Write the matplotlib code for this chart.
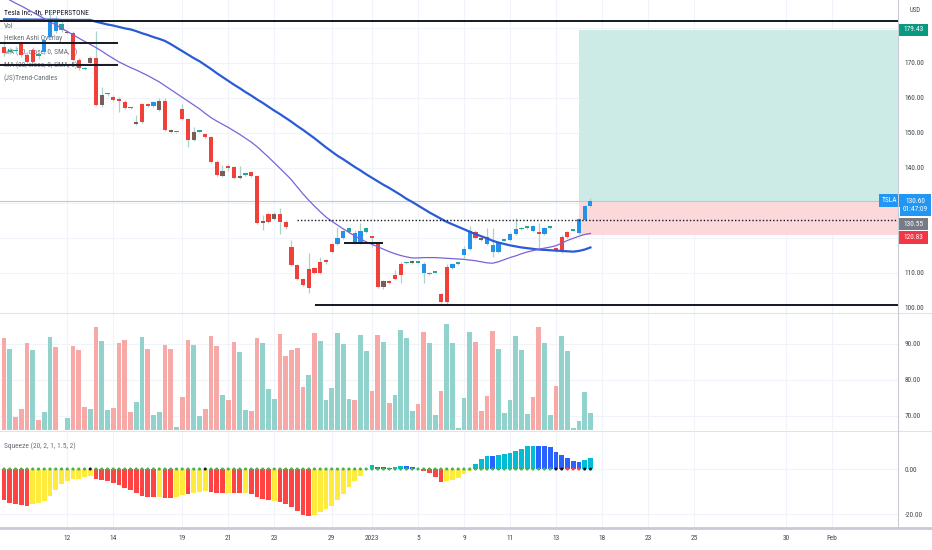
import matplotlib
matplotlib.use("Agg")
import matplotlib.pyplot as plt
import numpy as np
from matplotlib.patches import Rectangle
from matplotlib.lines import Line2D
from matplotlib import font_manager

_names = {f.name for f in font_manager.fontManager.ttflist}
if 'Liberation Sans Narrow' in _names:
    FAM, FS = 'Liberation Sans Narrow', 1.0
elif 'Roboto Condensed' in _names:
    FAM, FS = 'Roboto Condensed', 0.95
else:
    FAM, FS = 'Liberation Sans', 0.82
plt.rcParams['font.family'] = [FAM, 'Liberation Sans', 'DejaVu Sans']

# ---------------- data ----------------
opens = [174.6,173.2,173.6,175.4,172.3,173.7,172.0,173.2,177.5,179.0,
         181.0,178.8,178.6,170.9,168.4,171.5,171.5,158.0,161.0,160.4,
         159.7,158.9,157.1,152.6,153.2,158.2,157.7,156.6,159.1,150.9,
         150.2,156.9,153.9,148.0,150.4,149.6,148.8,141.8,137.7,140.7,
         140.2,137.1,138.0,138.8,137.7,124.2,126.9,125.3,126.8,124.7,
         117.5,112.3,108.2,105.6,111.3,109.9,113.0,115.9,118.2,120.1,
         121.8,118.5,118.5,121.8,120.4,118.5,107.7,107.8,109.4,112.6,
         112.8,113.4,112.9,112.6,109.6,110.1,104.0,101.6,111.5,112.6,
         115.1,116.8,121.8,120.1,118.2,118.0,115.9,119.2,119.4,121.1,
         122.5,122.9,122.1,121.8,121.1,122.9,117.1,116.4,120.4,122.1,
         121.5,125.1,129.2]
closes = [172.9,173.6,173.3,172.3,170.4,170.4,172.4,176.6,182.3,182.3,
          179.4,178.5,170.9,168.5,168.2,169.9,158.0,160.9,161.0,159.4,
          159.1,157.1,157.1,153.2,158.2,157.7,158.8,159.1,150.9,150.2,
          150.2,153.9,148.0,150.4,150.4,148.8,141.8,138.0,139.0,139.9,
          137.1,137.7,138.0,137.7,124.4,124.9,124.7,126.9,124.7,123.0,
          112.3,108.2,106.6,111.1,109.9,113.0,113.7,118.2,120.1,122.1,
          122.8,121.5,122.0,122.9,120.0,105.9,106.1,107.1,108.2,109.4,
          112.8,112.8,112.9,109.9,110.1,110.1,101.8,111.6,112.6,112.9,
          116.8,122.0,119.9,119.4,120.4,115.9,118.5,119.6,121.1,122.5,
          122.8,122.9,123.5,121.1,122.8,122.9,116.4,120.4,121.8,122.1,
          125.3,129.2,130.6]
highs = [176.5,174.5,174.8,176.2,173.0,174.5,173.5,177.0,185.0,183.5,
         182.0,179.5,179.0,171.3,168.8,172.0,179.0,163.2,161.5,160.9,
         160.2,159.3,157.4,155.1,158.6,158.6,159.0,159.9,160.0,151.2,
         150.4,158.2,154.3,151.8,150.6,150.0,149.2,142.2,140.9,141.2,
         140.6,140.6,138.2,139.2,138.0,126.6,127.3,127.3,128.6,125.0,
         119.4,112.6,108.5,115.7,111.6,114.7,114.0,118.6,123.2,122.4,
         123.1,122.4,124.4,123.2,120.7,118.8,108.0,108.1,110.8,113.0,
         113.2,113.8,113.2,113.0,110.4,110.3,104.3,112.6,112.9,113.1,
         117.7,123.4,122.2,120.4,122.8,122.8,118.8,119.8,121.4,125.6,
         123.0,123.1,123.8,124.4,123.1,123.1,117.4,120.9,122.1,122.3,
         125.6,129.5,131.3]
lows = [172.0,172.5,172.8,171.8,169.8,170.0,171.0,172.8,177.0,178.5,
        178.8,178.2,170.5,168.0,168.0,169.7,157.8,157.5,160.6,159.0,
        156.1,156.8,156.9,152.2,152.8,157.5,157.4,156.3,150.6,150.0,
        150.0,153.6,146.1,147.6,150.2,148.5,141.5,137.7,137.4,139.0,
        136.8,136.8,137.8,137.4,124.1,122.3,124.4,125.0,121.1,122.7,
        112.0,107.9,106.3,104.3,109.6,109.6,112.7,115.6,117.9,119.8,
        121.5,118.2,118.2,121.5,117.5,105.6,105.5,106.8,108.0,107.0,
        112.5,112.5,112.7,107.0,109.3,109.9,101.5,101.2,111.2,112.4,
        114.2,116.5,119.6,119.1,117.9,114.6,115.6,119.0,119.1,120.8,
        122.2,122.7,121.8,117.1,120.8,122.7,116.1,115.6,120.1,121.9,
        121.2,124.8,128.9]
candle_trend = ("rttrrrtbbb" "tdrrtdrdtr" "rrrdrrbdrd" "trrdtrrrdr" "rdtrrdrdrr"
                "rrrrrrrrbb" "tbbtrrdrrr" "tdtbttrrbt" "bbrdbbbtbb" "ttbrbtrrrt" "bbb")

ma50 = [182.5,182.5,182.5,182.4,182.4,182.4,182.4,182.4,182.4,182.4,
        182.3,182.3,182.3,182.3,182.3,182.3,181.8,181.4,181.0,180.7,
        180.3,179.9,179.6,179.1,178.5,178.0,177.4,176.9,176.3,175.4,
        174.4,173.4,172.4,171.4,170.5,169.4,168.3,167.1,166.0,164.9,
        163.8,162.8,161.7,160.7,159.6,158.6,157.5,156.4,155.4,154.3,
        153.2,152.0,150.9,149.7,148.5,147.2,145.9,144.7,143.5,142.5,
        141.4,140.3,139.3,138.2,137.2,136.2,135.2,134.3,133.3,132.3,
        131.2,130.3,129.3,128.3,127.3,126.4,125.5,124.6,123.9,123.2,
        122.5,121.8,121.1,120.5,119.9,119.2,118.7,118.3,117.9,117.6,
        117.3,117.1,116.9,116.7,116.6,116.5,116.4,116.3,116.2,116.1,
        116.3,116.7,117.3]
ma20 = [188.9,188.0,187.1,186.3,185.4,184.5,183.6,182.7,181.8,180.9,
        179.9,179.0,178.1,177.1,176.2,175.3,174.4,173.4,172.3,171.3,
        170.3,169.5,168.7,168.0,167.2,166.4,165.5,164.6,163.5,162.4,
        161.3,160.2,159.1,158.0,156.9,155.6,154.4,153.4,152.5,151.6,
        150.6,149.6,148.5,147.4,146.1,144.6,143.1,141.5,139.9,138.3,
        136.6,134.6,132.6,130.8,129.1,127.5,126.0,124.8,123.7,122.6,
        121.6,120.6,119.7,118.9,118.2,117.5,116.8,116.1,115.5,115.0,
        114.6,114.3,114.3,114.4,114.4,114.4,114.3,114.2,114.1,114.0,
        113.9,113.7,113.5,113.2,112.9,112.8,113.2,113.8,114.4,114.9,
        115.5,116.0,116.4,116.8,117.1,117.4,117.8,118.5,119.3,119.9,
        120.5,121.0,121.3]

volume = [91.6,88.6,69.8,71.9,90.2,88.3,69.0,71.1,91.9,89.1,
          66.1,69.4,89.3,88.3,72.5,72.0,94.6,90.9,71.6,72.2,
          90.2,91.1,71.0,74.0,91.9,88.6,70.2,71.1,89.8,88.7,
          67.0,75.2,91.1,89.6,70.1,71.9,92.2,89.5,75.7,74.5,
          90.6,87.8,71.6,71.4,91.7,90.2,77.4,74.6,92.9,86.6,
          88.3,89.0,78.1,81.4,
          93.1,90.7,74.5,77.8,93.1,89.9,74.7,74.5,92.5,88.1,
          77.0,92.5,90.6,73.6,75.8,93.8,91.7,71.5,73.2,93.4,
          90.2,70.4,77.0,95.6,90.2,66.6,75.1,93.2,90.6,71.3,
          75.6,93.6,88.6,70.7,74.5,92.1,88.4,70.6,75.2,94.6,
          90.2,70.4,78.3,92.1,88.1,66.6,68.6,76.7,70.9]
volume_dir = ("rtrrrtrttr" "rtrrrtrttr" "rrrttrttrr" "trrttrrrtr" "rttrrtttrr" "rrrt"
              "rttttttrtt" "rrtrttttrr" "ttrtttttrr" "rrttttttrr" "ttrtttttt")

squeeze = [-13.8,-15.0,-15.4,-16.0,-16.6,-15.6,-15.0,-14.1,-12.0,-9.3,
           -6.8,-5.2,-4.4,-4.3,-3.7,-3.0,-4.3,-4.9,-5.3,-6.1,
           -7.1,-8.3,-9.3,-10.8,-12.0,-12.4,-12.6,-12.5,-12.8,-12.9,
           -12.3,-11.6,-11.2,-10.5,-10.0,-9.7,-10.0,-10.5,-10.5,-10.5,
           -10.7,-10.8,-10.5,-11.2,-12.4,-13.4,-13.7,-14.1,-14.6,-15.6,
           -16.9,-18.5,-20.4,-20.9,-20.4,-19.3,-17.8,-16.4,-13.8,-11.1,
           -8.1,-5.3,-3.0,-0.6,1.8,0.9,0.7,0.5,0.9,1.5,
           1.3,0.7,-0.2,-0.9,-1.6,-3.7,-5.9,-5.5,-4.9,-3.9,
           -2.4,-0.9,2.1,4.3,5.9,5.9,6.2,6.5,7.0,8.2,
           9.1,10.1,10.4,10.1,10.1,9.8,7.4,6.2,5.0,3.7,
           3.0,4.0,4.7]
squeeze_state = ("rrrrr" "yyyyyyyyyyy" "rrrrrrrrrrr" "yrryyryyy" "rrr" "y" "rr" "y" "rrrr" "y" "rrrrrr"
                 "yyyyyyyyyy" "c" "bbb" "cc" "bb" "rrrrr" "yyyyy" "ccc" "b" "ccccccc" "bbbbbbbb" "cc")
dot_state = ["g"] * 103
for k in (15, 35, 96, 97, 101, 102):
    dot_state[k] = "k"
for k in (98, 99, 100):
    dot_state[k] = "r"

tick_bars = [11, 19, 31, 39, 47, 57, 64, 72, 80, 88, 96, 104, 112, 120, 136, 144]
tick_labels = ["12", "14", "19", "21", "23", "29", "2023", "5", "9", "11", "13", "18", "23", "25", "30", "Feb"]

price_ticks = [100, 110, 140, 150, 160, 170]
price_grid = [110, 120, 130, 140, 150, 160, 170, 180]
vol_ticks = [70, 80, 90]
sq_ticks = [0, -20]

# drawings
hline_levels = [181.9, 175.7, 169.4, 118.7, 100.9]
hline_start = [-0.7, -0.7, -0.7, 59.1, 54.1]
hline_end = [155.5, 19.8, 19.8, 65.9, 155.5]
dotted_level, dotted_start = 125.2, 51.0
last_price = 130.60
target_price, stop_price = 179.43, 120.83
entry_bar = 99.95
legend_lines = ["Vol", "Heiken Ashi Overlay", "MA (50, close, 0, SMA, 5)",
                "MA (20, close, 0, SMA, 5)", "(JS)Trend-Candles"]

# ---------------- figure ----------------
W, H = 932, 550
fig = plt.figure(figsize=(W / 100, H / 100), dpi=100)
PR = 898
LBL = 5.6 * FS


def fax(x0, y0, x1, y1):
    return fig.add_axes([x0 / W, 1 - y1 / H, (x1 - x0) / W, (y1 - y0) / H])


ax_p = fax(0, 0, PR, 313)
ax_v = fax(0, 313, PR, 430)
ax_s = fax(0, 431, PR, 527)

n = len(closes)
idx = np.arange(n)
XL = (-0.7, 155.5)
GRID = '#f0f3fa'
TXT = '#434651'

for ax in (ax_p, ax_v, ax_s):
    ax.set_xlim(*XL)
    for s in ax.spines.values():
        s.set_visible(False)
    ax.yaxis.tick_right()
    ax.tick_params(axis='y', length=0, pad=5, labelsize=LBL, labelcolor=TXT)
    ax.tick_params(axis='x', length=0)
    for t in tick_bars:
        ax.axvline(t, color=GRID, lw=0.8, zorder=0)
    ax.set_facecolor('white')

ax_p.set_ylim(98.57, 188.0)
ax_v.set_ylim(66.1, 98.6)
ax_s.set_ylim(-25.77, 16.9)

for g in price_grid:
    ax_p.axhline(g, color=GRID, lw=0.8, zorder=0)
ax_p.set_yticks(price_ticks)
ax_p.set_yticklabels([f"{v:.2f}" for v in price_ticks])
for g in vol_ticks:
    ax_v.axhline(g, color=GRID, lw=0.8, zorder=0)
ax_v.set_yticks(vol_ticks)
ax_v.set_yticklabels([f"{v:.2f}" for v in vol_ticks])
for g in sq_ticks:
    ax_s.axhline(g, color=GRID, lw=0.8, zorder=0)
ax_s.set_yticks(sq_ticks)
ax_s.set_yticklabels([f"{v:.2f}" for v in sq_ticks])

ax_p.set_xticks([])
ax_v.set_xticks([])
ax_s.set_xticks(tick_bars)
ax_s.set_xticklabels(tick_labels)
ax_s.tick_params(axis='x', labelsize=LBL, labelcolor=TXT, pad=5.5)

# ---- price pane ----
ax_p.add_patch(Rectangle((entry_bar, last_price), XL[1] - entry_bar, target_price - last_price,
                         facecolor='#cdebe6', edgecolor='none', zorder=1))
ax_p.add_patch(Rectangle((entry_bar, stop_price), XL[1] - entry_bar, last_price - stop_price,
                         facecolor='#fcd8db', edgecolor='none', zorder=1))
ax_p.axhline(last_price, color='#a8cbf2', lw=0.8, zorder=2)

for i, line in enumerate(legend_lines):
    ypx = 26 + i * 13
    ax_p.text(4 / PR, 1 - ypx / 313, line, transform=ax_p.transAxes, fontsize=LBL,
              color='#6a6d78', va='center', ha='left', zorder=1.5)
ax_p.text(4 / PR, 1 - 12.5 / 313, "Tesla Inc, 4h, PEPPERSTONE", transform=ax_p.transAxes,
          fontsize=LBL, color='#131722', va='center', ha='left', zorder=1.5)

ax_p.plot(idx, ma50, color='#2a5bd7', lw=1.6, zorder=4)
ax_p.plot(idx, ma20, color='#7a63d9', lw=0.9, zorder=4)

o = np.array(opens); c = np.array(closes); hi = np.array(highs); lo = np.array(lows)
cmap = {'r': '#f0403a', 'b': '#2592ea', 'd': '#7a5d57', 't': '#26a69a'}
ccols = [cmap[k] for k in candle_trend]
ax_p.vlines(idx, lo, hi, color='#aad3ce', lw=0.9, zorder=3)
bb = np.minimum(o, c)
bh = np.maximum(np.abs(c - o), 0.45)
ax_p.bar(idx, bh, bottom=bb, width=0.72, color=ccols, edgecolor='none', zorder=3.5)

for lv, s0, s1 in zip(hline_levels, hline_start, hline_end):
    ax_p.hlines(lv, s0, s1, color='#131722', lw=1.4, zorder=5)
ax_p.hlines(dotted_level, dotted_start, XL[1], color='#131722', lw=1.0,
            linestyles=(0, (1, 1.5)), zorder=5)

# ---- volume pane ----
vmap = {'r': '#f7a9a7', 't': '#92d2cc'}
ax_v.bar(idx, volume, width=0.84, color=[vmap[k] for k in volume_dir], edgecolor='none', zorder=2)

# ---- squeeze pane ----
smap = {'r': '#ff4242', 'y': '#ffeb3b', 'c': '#00bcd4', 'b': '#2962ff'}
ax_s.bar(idx, squeeze, width=0.84, color=[smap[k] for k in squeeze_state], edgecolor='none', zorder=2)
dmap = {'g': '#4caf50', 'k': '#131722', 'r': '#ff4242'}
ax_s.scatter(idx, np.zeros(n), s=5, c=[dmap[k] for k in dot_state], zorder=3, linewidths=0)
ax_s.text(4 / PR, 1 - 15 / 96, "Squeeze (20, 2, 1, 1.5, 2)", transform=ax_s.transAxes,
          fontsize=LBL, color='#6a6d78', va='center', ha='left')

# ---- overlay: separators and axis labels ----
ov = fig.add_axes([0, 0, 1, 1], zorder=10)
ov.set_xlim(0, W)
ov.set_ylim(H, 0)
ov.axis('off')
ov.patch.set_alpha(0)

ov.add_line(Line2D([0, W], [313, 313], color='#e0e3eb', lw=0.8))
ov.add_line(Line2D([0, W], [430.5, 430.5], color='#e0e3eb', lw=0.8))
ov.add_line(Line2D([0, W], [528, 528], color='#c8cbd3', lw=2.0))
ov.add_line(Line2D([PR, PR], [0, 528], color='#c8cbd3', lw=0.8))


def py(ax, v):
    return H - ax.transData.transform((0, v))[1]


def label_box(x0, x1, y0, y1, color, text):
    ov.add_patch(Rectangle((x0, y0), x1 - x0, y1 - y0, facecolor=color, edgecolor='none'))
    ov.text((x0 + x1) / 2, (y0 + y1) / 2, text, color='white', fontsize=LBL,
            ha='center', va='center', linespacing=1.3)


ov.text(915, 10, "USD", color=TXT, fontsize=LBL * 0.92, ha='center', va='center')
yt = py(ax_p, target_price)
label_box(899, 928, yt - 6, yt + 6, '#089981', f"{target_price:.2f}")
yl = py(ax_p, last_price)
label_box(879, 900, yl - 6.5, yl + 6.5, '#2196f3', "TSLA")
label_box(900, 931, yl - 6.5, yl + 15.5, '#2196f3', f"{last_price:.2f}\n01:47:09")
g0 = yl + 17
label_box(899, 928, g0, g0 + 12.5, '#787b86', "130.55")
r0 = g0 + 13.5
label_box(899, 928, r0, r0 + 12.5, '#f23645', f"{stop_price:.2f}")

fig.savefig("out.png", dpi=100)
